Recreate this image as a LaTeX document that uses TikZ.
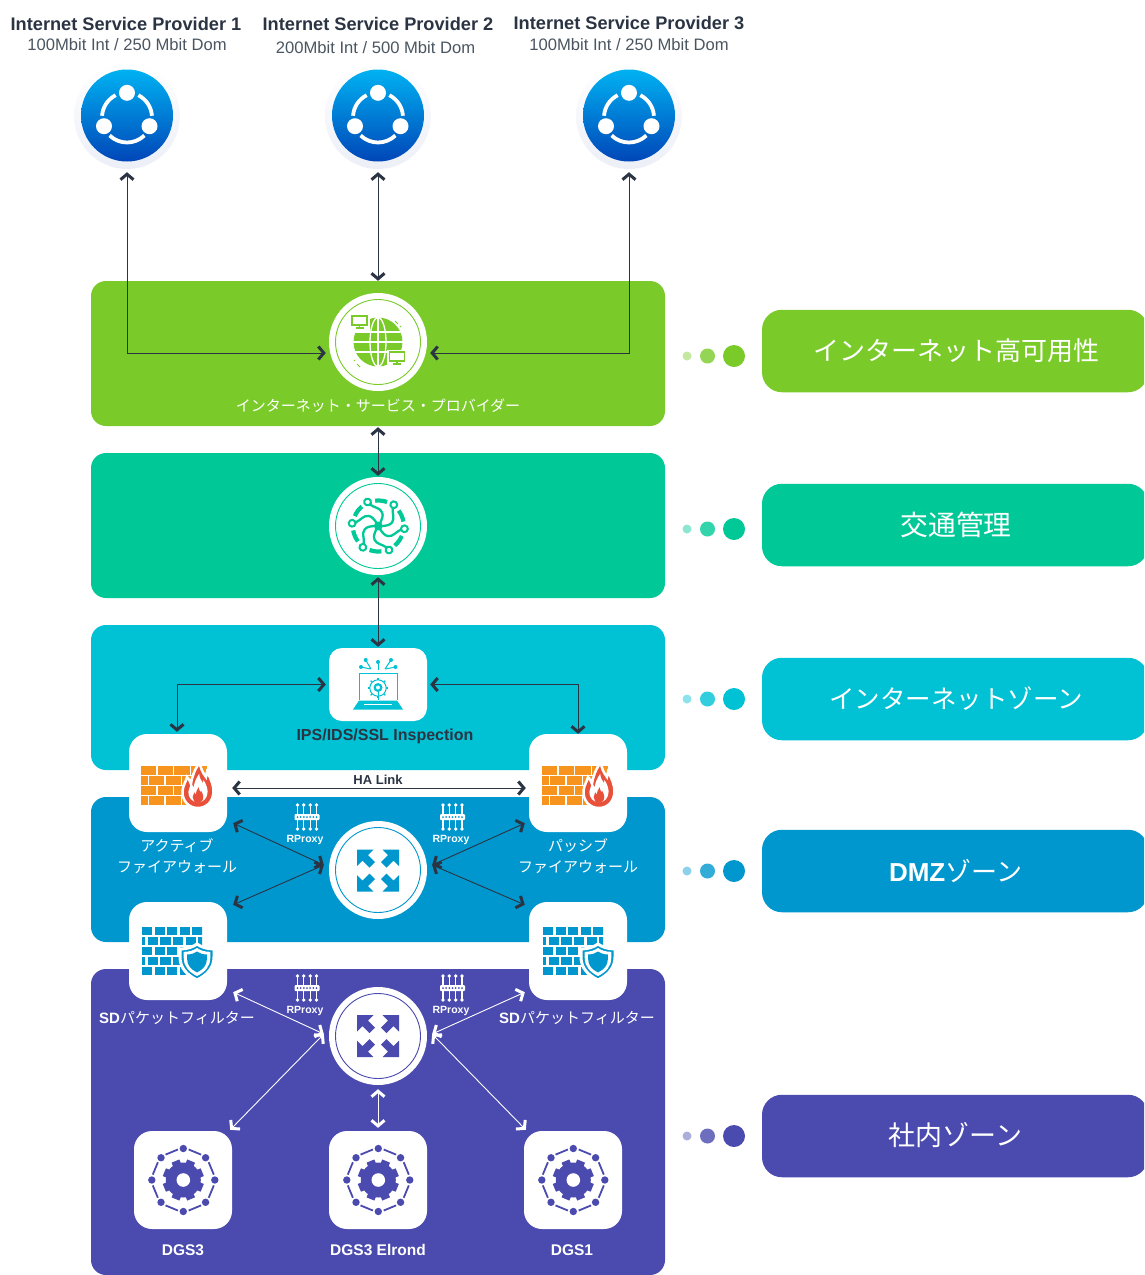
\documentclass[tikz,border=0pt]{standalone}
\usepackage{fontspec}
\setmainfont{Liberation Sans}
\newfontfamily\cjk{Noto Sans CJK JP}
\usetikzlibrary{arrows.meta,calc}
\definecolor{cgreen}{HTML}{7ACB2A}
\definecolor{cteal}{HTML}{00C896}
\definecolor{ccyan}{HTML}{00C2D4}
\definecolor{cblue}{HTML}{0097CE}
\definecolor{cpurple}{HTML}{4A4AAF}
\definecolor{cdark}{HTML}{2B3443}
\definecolor{corange}{HTML}{F7941D}
\definecolor{cflame}{HTML}{E8503A}
\definecolor{chalo}{HTML}{ECEFF7}
\definecolor{csub}{HTML}{4A5560}
\definecolor{HTMLtop}{HTML}{00B2F2}
\definecolor{HTMLbot}{HTML}{0046B8}
\tikzset{
  chev/.tip={Straight Barb[length=5.5pt,width=13pt,line width=3pt]},
  conn/.style={draw=cdark,line width=.9pt,{chev}-{chev}},
  connw/.style={draw=white,line width=.9pt,{chev}-{chev}},
  tagbox/.style={rounded corners=20pt,inner sep=0pt,minimum width=386pt,minimum height=82.5pt,text=white},
  whitebox/.style={rounded corners=18pt,fill=white,inner sep=0pt,minimum width=98pt,minimum height=98pt},
  whitedisc/.style={circle,fill=white,inner sep=0pt,minimum size=98pt},
  halo/.style={circle,top color=white,bottom color=chalo,inner sep=0pt,minimum size=106pt},
  ttl/.style={font=\fontsize{18.2}{20}\selectfont\bfseries,text=cdark,inner sep=0pt},
  subt/.style={font=\fontsize{16.6}{19}\selectfont,text=csub,inner sep=0pt},
  wlab/.style={font=\fontsize{15}{21}\selectfont\cjk,text=white,inner sep=0pt,align=center},
  blab/.style={font=\fontsize{15.5}{18}\selectfont\bfseries,text=white,inner sep=0pt},
  plab/.style={font=\fontsize{10.5}{12}\selectfont\bfseries,text=white,inner sep=0pt},
}
\newcommand\shareicon[2]{%
  \shade[top color=HTMLtop,bottom color=HTMLbot] (#1,#2) circle[radius=46pt];
  \begin{scope}[shift={(#1,#2)},y=1pt,white,line width=3.8pt]
    \draw (0,-2) ++(117:25pt) arc[start angle=117,end angle=176,radius=25pt];
    \draw (0,-2) ++(4:25pt) arc[start angle=4,end angle=63,radius=25pt];
    \draw (0,-2) ++(226:25pt) arc[start angle=226,end angle=314,radius=25pt];
    \fill (0,22.7) circle[radius=8pt] (-23,-10.7) circle[radius=8pt] (22.5,-10.7) circle[radius=8pt];
  \end{scope}}
\newcommand\monitor[3]{%
  \fill[white] (#1-10,#2+7.5) rectangle (#1+10,#2-10);
  \draw[#3,line width=1.2pt] (#1-7.5,#2+5) rectangle (#1+7.5,#2-4);
  \draw[#3,line width=1.2pt] (#1,#2-4) -- (#1,#2-7) (#1-4,#2-7) -- (#1+4,#2-7);}
\newcommand\globeicon[2]{%
  \begin{scope}[shift={(#1,#2)},y=1pt]
    \fill[cgreen] (0,3) circle[radius=24.5pt];
    \draw[white,line width=1.3pt] (0,3) ellipse[x radius=8pt,y radius=24.5pt];
    \draw[white,line width=1.3pt] (0,-21.5) -- (0,27.5) (-25,3) -- (25,3) (-24,13) -- (24,13) (-24,-7) -- (24,-7);
    \monitor{-18.5}{24}{cgreen}
    \monitor{19}{-12}{cgreen}
    \draw[cgreen,line width=1pt] (17,24) -- (20,21) (22,19) -- (23,18) (-21,-19) -- (-18,-22) (-24,-15) -- (-23,-16);
  \end{scope}}
\newcommand\aiicon[2]{%
  \begin{scope}[shift={(#1,#2)},y=1pt,cteal]
    \fill (0,0) circle[radius=4.4pt];
    \foreach \k in {0,...,5}{
      \begin{scope}[rotate=60*\k-6]
        \draw[line width=2.3pt] (23.2,-1) .. controls (18,-4) and (16,-9) .. (11,-9) .. controls (7,-9) and (5,-6) .. (2,-3);
        \draw[line width=2pt,fill=white] (26.3,0) circle[radius=3.4pt];
        \draw[line width=4.2pt] (0,0) ++(16:25.5pt) arc[start angle=16,end angle=43,radius=25.5pt];
      \end{scope}}
  \end{scope}}
\newcommand\laptopicon[2]{%
  \begin{scope}[shift={(#1,#2)},ccyan]
    \draw[line width=1pt] (-19,16) -- (-19,-11) -- (19,-11) -- (19,16);
    \fill (-19,16.5) -- (19,16.5) -- (25,25.5) -- (-25,25.5) -- cycle;
    \draw[white,line width=1pt] (-14,20.5) -- (14,20.5);
    \draw[line width=1pt] (0,4) circle[radius=8.2pt];
    \fill (0,3.5) circle[radius=4.5pt];
    \fill[white] (0,3.5) circle[radius=2pt];
    \draw[line width=1pt] (0,6) -- (0,16);
    \foreach \a in {0,45,...,315}{\draw[line width=1.2pt] (0,4) ++(\a:8.2pt) -- ++(\a:2.2pt);}
    \foreach \p/\q/\r/\s in {-12.3/-24/-7/-15,0/-22/0/-14,13/-24/7/-15,-17/-17/-7.5/-15,17.5/-17/7.5/-15}{
      \draw[line width=1pt] (\p,\q) -- (\r,\s);
      \fill (\p,\q) circle[radius=2pt];}
  \end{scope}}
\newcommand\routericon[3]{%
  \begin{scope}[shift={(#1,#2)},y=1pt]
    \foreach \k in {0,90,180,270}{
      \fill[#3,rotate=\k] (21,21) -- (4.5,21) -- (10,15.5) -- (3,8.5) -- (8.5,3) -- (15.5,10) -- (21,4.5) -- cycle;}
  \end{scope}}
\def\flamepath{(0,-23) .. controls (-10,-23) and (-16,-15) .. (-15.5,-6) .. controls (-15,0) and (-12,3) .. (-11,8) .. controls (-9,6) and (-8,4) .. (-7,1) .. controls (-6,9) and (-3,16) .. (2,23) .. controls (2,17) and (5,12) .. (8,8) .. controls (8,10) and (9,11) .. (9,13) .. controls (13,7) and (15.5,-1) .. (15.5,-6) .. controls (15.5,-16) and (9,-23) .. (0,-23) -- cycle}
\newcommand\fireicon[2]{%
  \begin{scope}[shift={(#1,#2)}]
    \begin{scope}
      \clip (-36,-17.3) rectangle (30,21.5);
      \foreach \r/\o in {0/0,1/-8.7,2/0,3/-8.7}{
        \foreach \c in {0,...,4}{
          \fill[corange] ({-36+\o+16.7*\c},{-17.3+10*\r}) rectangle ++(15.4,8.8);}}
    \end{scope}
    \begin{scope}[shift={(21,2)},y=1pt]
      \draw[white,line width=2.5pt,fill=cflame] \flamepath;
      \begin{scope}[shift={(0,-3)},scale=.62] \fill[white] \flamepath; \end{scope}
      \begin{scope}[shift={(0,-10)},scale=.34] \fill[cflame] \flamepath; \end{scope}
    \end{scope}
  \end{scope}}
\def\shieldpath{(0,-18) .. controls (-10,-13) and (-17,-6) .. (-17,5) -- (-17,13) .. controls (-10,13) and (-4,15) .. (0,18) .. controls (4,15) and (10,13) .. (17,13) -- (17,5) .. controls (17,-6) and (10,-13) .. (0,-18) -- cycle}
\newcommand\wallicon[2]{%
  \begin{scope}[shift={(#1,#2)}]
    \begin{scope}
      \clip (-36,-24) rectangle (24,24);
      \foreach \r/\o in {0/0,1/-6.8,2/0,3/-6.8,4/0}{
        \foreach \c in {0,...,5}{
          \fill[cblue] ({-36+\o+12.6*\c},{-24+10*\r}) rectangle ++(10.2,8);}}
    \end{scope}
    \begin{scope}[shift={(19,11)},y=1pt]
      \draw[white,line width=3pt,fill=cblue] \shieldpath;
      \begin{scope}[scale=.78] \fill[white] \shieldpath; \end{scope}
      \begin{scope}[scale=.58] \fill[cblue] \shieldpath; \end{scope}
    \end{scope}
  \end{scope}}
\newcommand\proxyicon[3]{%
  \begin{scope}[shift={(#1,#2)},white]
    \foreach \x in {-9.5,-3.2,3.2,9.5}{
      \draw[line width=1.2pt] (\x,-12) -- (\x,12);
      \fill (\x,-12) circle[radius=1.9pt] (\x,12) circle[radius=1.9pt];}
    \fill[white,rounded corners=1pt] (-12.5,-3) rectangle (12.5,3);
    \foreach \x in {-9.5,-6.3,-3.2,0,3.2,6.3,9.5}{\fill[#3] (\x,0) circle[radius=1pt];}
  \end{scope}}
\newcommand\gearicon[2]{%
  \begin{scope}[shift={(#1,#2)},y=1pt,cpurple]
    \foreach \a in {0,45,...,315}{
      \fill (\a:31.5pt) circle[radius=3.7pt];
      \draw[line width=1.8pt] (\a+10:31pt) -- (\a+35:31pt);
      \fill[rotate=\a+22.5] (14,-4.2) rectangle (20.5,4.2);}
    \fill (0,0) circle[radius=17.5pt];
    \fill[white] (0,0) circle[radius=6.8pt];
  \end{scope}}
\begin{document}
\begin{tikzpicture}[x=1pt,y=-1pt]
\useasboundingbox (0,0) rectangle (1144,1275);
\clip (0,0) rectangle (1144,1275);
% panels
\node[rounded corners=15pt,inner sep=0pt,minimum width=574pt,minimum height=145pt,fill=cgreen] (pinet) at (378,353.5) {};
\node[rounded corners=15pt,inner sep=0pt,minimum width=574pt,minimum height=145pt,fill=cteal] (ptraffic) at (378,525.5) {};
\node[rounded corners=15pt,inner sep=0pt,minimum width=574pt,minimum height=145pt,fill=ccyan] (pzone) at (378,697.5) {};
\node[rounded corners=15pt,inner sep=0pt,minimum width=574pt,minimum height=145pt,fill=cblue] (pdmz) at (378,869.5) {};
\node[rounded corners=15pt,inner sep=0pt,minimum width=574pt,minimum height=306pt,fill=cpurple] (pint) at (378,1122) {};
% ISP discs
\node[halo] (isp1) at (127,116) {};
\node[halo] (isp2) at (378,116) {};
\node[halo] (isp3) at (629,116) {};
\shareicon{127}{115.5}
\shareicon{378}{115.5}
\shareicon{629}{115.5}
% ISP texts
\node[ttl] (t1) at (126,23.5) {Internet Service Provider 1};
\node[ttl] (t2) at (378,23.5) {Internet Service Provider 2};
\node[ttl] (t3) at (629,23.5) {Internet Service Provider 3};
\node[subt] (s1) at (127,44.5) {100Mbit Int / 250 Mbit Dom};
\node[subt] (s2) at (375.5,47.5) {200Mbit Int / 500 Mbit Dom};
\node[subt] (s3) at (629,44.5) {100Mbit Int / 250 Mbit Dom};
% discs and boxes
\node[whitedisc] (wan) at (378,342) {};
\node[whitedisc] (traffic) at (378,526) {};
\node[rounded corners=13pt,fill=white,inner sep=0pt,minimum width=98pt,minimum height=73pt] (ips) at (378,684.5) {};
\node[whitebox] (fw1) at (178,783) {};
\node[whitebox] (fw2) at (578,783) {};
\node[whitedisc] (r1) at (378,870) {};
\node[whitebox] (fl1) at (178,951) {};
\node[whitebox] (fl2) at (578,951) {};
\node[whitedisc] (r2) at (378,1036) {};
\node[whitebox] (d1) at (183,1180) {};
\node[whitebox] (d2) at (378,1180) {};
\node[whitebox] (d3) at (573,1180) {};
% connectors
\draw[conn] ([yshift=-3pt]isp1.south) |- ([xshift=-3pt,yshift=-11pt]wan.west);
\draw[conn] ([yshift=-3pt]isp2.south) -- (pinet.north);
\draw[conn] ([yshift=-3pt]isp3.south) |- ([xshift=3pt,yshift=-11pt]wan.east);
\draw[conn] ([yshift=-1pt]pinet.south) -- ([yshift=1pt]traffic.north);
\draw[conn] ([yshift=-2pt]traffic.south) -- ([yshift=1pt]ips.north);
\draw[conn] ([xshift=-3pt]ips.west) -| ([yshift=2pt,xshift=-1pt]fw1.north);
\draw[conn] ([xshift=3pt]ips.east) -| (fw2.north);
\draw[conn] ([xshift=5pt,yshift=-5pt]fw1.east) -- ([xshift=-3pt,yshift=-5pt]fw2.west);
\draw[conn] ([xshift=6pt,yshift=9pt]fw1.south east) -- ([xshift=-5pt,yshift=5pt]r1.west);
\draw[conn] ([xshift=6pt,yshift=-3pt]fl1.north east) -- ([xshift=-5pt,yshift=5pt]r1.west);
\draw[conn] ([xshift=-4pt,yshift=9pt]fw2.south west) -- ([xshift=5pt,yshift=5pt]r1.east);
\draw[conn] ([xshift=-4pt,yshift=-3pt]fl2.north west) -- ([xshift=5pt,yshift=5pt]r1.east);
\draw[connw] ([xshift=6pt,yshift=8pt]fl1.south east) -- ([xshift=-5pt,yshift=2pt]r2.west);
\draw[connw] ([xshift=-4pt,yshift=8pt]fl2.south west) -- ([xshift=5pt,yshift=2pt]r2.east);
\draw[connw] ([xshift=-2pt,yshift=1pt]d1.north east) -- ([xshift=-5pt,yshift=2pt]r2.west);
\draw[connw] ([xshift=2pt,yshift=1pt]d3.north west) -- ([xshift=5pt,yshift=2pt]r2.east);
\draw[connw] ([yshift=-4pt]r2.south) -- ([yshift=3pt]d2.north);
% circle rings
\draw[cgreen,line width=.9pt] (wan) circle[radius=42.5pt];
\draw[cteal,line width=.9pt] (traffic) circle[radius=42.5pt];
\draw[cblue,line width=.9pt] (r1) circle[radius=42.5pt];
\draw[cpurple,line width=.9pt] (r2) circle[radius=42.5pt];
% icons
\globeicon{378}{345}
\aiicon{378.3}{526}
\laptopicon{378}{684}
\fireicon{177}{783}
\fireicon{578}{783}
\wallicon{178}{951}
\wallicon{579}{951}
\routericon{378}{870.5}{cblue}
\routericon{378}{1036}{cpurple}
\gearicon{183.3}{1180}
\gearicon{378.3}{1180}
\gearicon{573.3}{1180}
\proxyicon{307}{817}{cblue}
\proxyicon{452.5}{817}{cblue}
\proxyicon{307}{988}{cpurple}
\proxyicon{452.5}{988}{cpurple}
% labels
\node[wlab] (linet) at (378,406) {インターネット・サービス・プロバイダー};
\node[font=\fontsize{16}{19}\selectfont\bfseries,text=cdark,inner sep=0pt] (lips) at (385,736) {IPS/IDS/SSL Inspection};
\node[font=\fontsize{13}{15}\selectfont\bfseries,text=cdark,inner sep=0pt] (lha) at (378,780) {HA Link};
\node[wlab] (lfw1) at (177,856) {アクティブ\\ファイアウォール};
\node[wlab] (lfw2) at (578,856) {パッシブ\\ファイアウォール};
\node[wlab] (lfl1) at (177,1018) {{\rmfamily\bfseries SD}パケットフィルター};
\node[wlab] (lfl2) at (577,1018) {{\rmfamily\bfseries SD}パケットフィルター};
\node[plab] (lp1) at (305,840) {RProxy};
\node[plab] (lp2) at (451,840) {RProxy};
\node[plab] (lp3) at (305,1011) {RProxy};
\node[plab] (lp4) at (451,1011) {RProxy};
\node[blab] (ld1) at (183,1250) {DGS3};
\node[blab] (ld2) at (378,1250) {DGS3 Elrond};
\node[blab] (ld3) at (572,1250) {DGS1};
% tags and dots
\foreach \n/\col/\yy/\dy in {a/cgreen/351/356,b/cteal/525/529,c/ccyan/699/699,d/cblue/871/871,e/cpurple/1136/1136}{
  \fill[\col,opacity=.45] (687,\dy) circle[radius=4.5pt];
  \fill[\col,opacity=.8] (707.5,\dy) circle[radius=7.5pt];
  \fill[\col] (734,\dy) circle[radius=11pt];
  \node[tagbox,fill=\col] (tag\n) at (955,\yy) {};
}
\node[font=\fontsize{26}{30}\selectfont\cjk,text=white,inner sep=0pt] (ta) at (956,350.5) {インターネット高可用性};
\node[font=\fontsize{27.8}{30}\selectfont\cjk,text=white,inner sep=0pt] (tb) at (956,525) {交通管理};
\node[font=\fontsize{25.5}{30}\selectfont\cjk,text=white,inner sep=0pt] (tc) at (956,699) {インターネットゾーン};
\node[font=\fontsize{26}{30}\selectfont\cjk,text=white,inner sep=0pt] (td) at (955.5,871) {{\rmfamily\bfseries DMZ}ゾーン};
\node[font=\fontsize{27}{30}\selectfont\cjk,text=white,inner sep=0pt] (te) at (955.5,1135) {社内ゾーン};
\end{tikzpicture}
\end{document}
